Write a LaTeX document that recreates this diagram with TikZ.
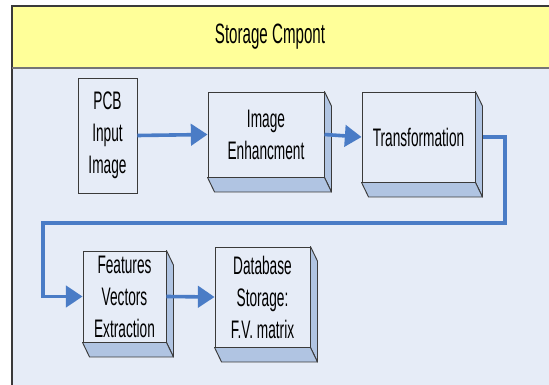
\documentclass[tikz,border=0pt]{standalone}
\usepackage{fontspec}
\setmainfont{Liberation Sans}[FakeStretch=0.54]
\usetikzlibrary{arrows.meta,calc}
\definecolor{bgblue}{HTML}{E6ECF7}
\definecolor{titleyellow}{HTML}{FFFF99}
\definecolor{shade}{HTML}{B0C4E2}
\definecolor{flowblue}{HTML}{4A7CC6}
\definecolor{edge}{HTML}{3A3A3A}
\tikzset{
  stepbox/.style={draw=edge, line width=0.7pt, fill=bgblue, inner sep=0pt, align=center,
    font=\fontsize{19}{24}\selectfont},
  face/.style={fill=shade, draw=edge, line width=0.7pt, line join=round},
  flow/.style={draw=flowblue, line width=2.7pt, -{Triangle[length=12.5pt,width=16pt]}},
}
\newcommand{\depthbox}[1]{%
  \filldraw[face] (#1.north east) -- ++(7,14.5) -- ($(#1.south east)+(0.75*7pt,-0.75*14.5pt)$) -- (#1.south east) -- cycle;
  \filldraw[face] (#1.south west) -- ++(7,14.5) -- ($(#1.south east)+(0.75*7pt,-0.75*14.5pt)$) -- (#1.south east) -- cycle;
}
\begin{document}
\begin{tikzpicture}[x=0.75pt,y=-0.75pt]
\useasboundingbox (0,0) rectangle (549,385);
\clip (0,0) rectangle (549,385);
% frame
\fill[bgblue] (12,6) rectangle (560,400);
\fill[titleyellow] (12,6) rectangle (560,68);
\draw[edge, line width=0.8pt] (560,6) -- (12,6) -- (12,400);
\draw[edge!70, line width=0.8pt] (12,68) -- (560,68);
\node[font=\fontsize{21}{24}\selectfont] (title) at (270,37) {Storage Cmpont};
% nodes
\node[stepbox, minimum width=44.25pt, minimum height=86.25pt] (pcb) at (107.5,135.5) {PCB\\Input\\Image};
\node[stepbox, minimum width=87pt, minimum height=63.75pt] (enh) at (266,134.5) {Image\\Enhancment};
\node[stepbox, minimum width=84.75pt, minimum height=67.5pt] (trans) at (418.5,137) {Transformation};
\node[stepbox, minimum width=62.25pt, minimum height=68.25pt] (feat) at (124.5,296.5) {Features\\Vectors\\Extraction};
\node[stepbox, minimum width=71.25pt, minimum height=75pt] (db) at (262.5,297) {Database\\Storage:\\F.V. matrix};
\depthbox{enh}
\depthbox{trans}
\depthbox{feat}
\depthbox{db}
% connectors
\coordinate (turnA) at (505,223);
\coordinate (turnB) at (43,223);
\draw[flow] (pcb.east) -- (enh.west);
\draw[flow] (enh.east) -- (trans.west);
\draw[flow] ([xshift=5.5pt]trans.east) -| (turnA) -- (turnB) |- (feat.west);
\draw[flow] (feat.east) -- (db.west);
\end{tikzpicture}
\end{document}
